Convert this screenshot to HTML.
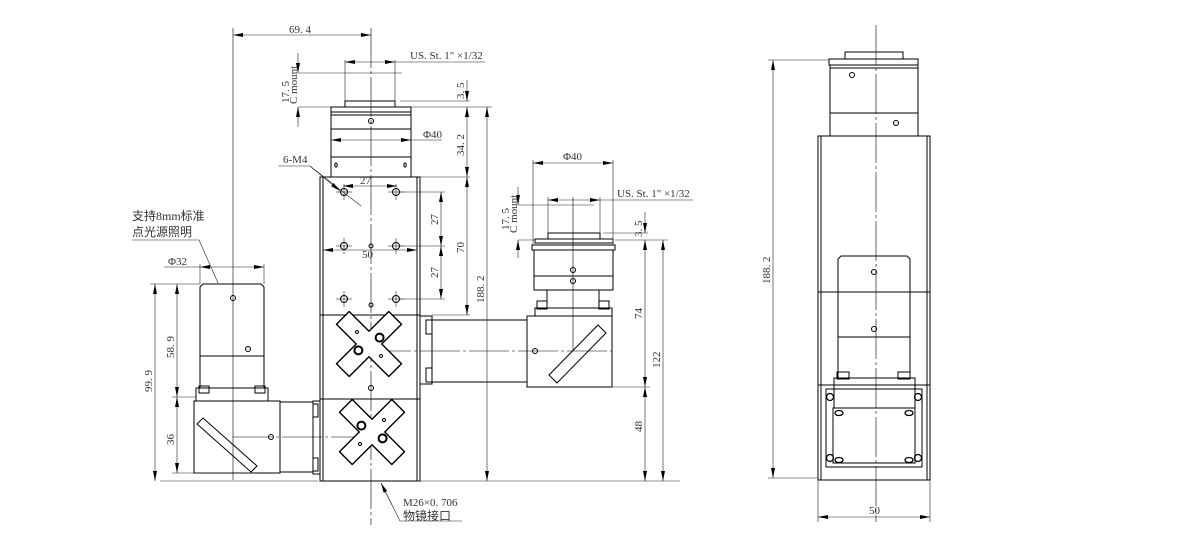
<!DOCTYPE html>
<html><head><meta charset="utf-8"><style>
html,body{margin:0;padding:0;background:#fff;width:1200px;height:540px;overflow:hidden}
svg{display:block}
text{font-family:"Liberation Serif","Noto Serif CJK SC",serif;font-size:11px;fill:#333}
.cn{font-family:"Liberation Serif","Noto Sans CJK SC",sans-serif;font-size:12px}
</style></head><body>
<svg width="1200" height="540" viewBox="0 0 1200 540" xmlns="http://www.w3.org/2000/svg">
<defs>
<marker id="a" viewBox="0 0 10 4" refX="10" refY="2" markerWidth="10" markerHeight="4" orient="auto-start-reverse" markerUnits="userSpaceOnUse"><path d="M0,0 L10,2 L0,4z" fill="#000"/></marker>
<g id="cross"><polygon points="-9,-37 9,-37 9,-9 37,-9 37,9 9,9 9,37 -9,37 -9,9 -37,9 -37,-9 -9,-9" fill="#fff" stroke="#000" stroke-width="1.4" stroke-linejoin="round"/></g>
<g id="hx"><circle r="3.5" fill="none" stroke="#000"/><line x1="-8" y1="0" x2="8" y2="0" stroke="#000" stroke-width=".5"/><line x1="0" y1="-8" x2="0" y2="8" stroke="#000" stroke-width=".5"/></g>
</defs>
<g fill="none" stroke="#000" stroke-width="1">
<line x1="371" y1="28" x2="371" y2="525" stroke-width=".6" stroke-dasharray="40,3,3,3"/>
<line x1="233" y1="28" x2="233" y2="480" stroke-width=".6"/>
<line x1="876" y1="25" x2="876" y2="522" stroke-width=".6" stroke-dasharray="40,3,3,3"/>
<line x1="573" y1="197" x2="573" y2="350" stroke-width=".6"/>
<line x1="371" y1="351" x2="612" y2="351" stroke-width=".6" stroke-dasharray="40,3,3,3"/>
<line x1="233" y1="437" x2="371" y2="437" stroke-width=".6" stroke-dasharray="40,3,3,3"/>

<rect x="345" y="101" width="50" height="6"/>
<rect x="331" y="107" width="80" height="5"/>
<rect x="331" y="112" width="80" height="65"/>
<line x1="331" y1="115" x2="411" y2="115"/>
<line x1="331" y1="129" x2="411" y2="129"/>
<line x1="331" y1="157" x2="411" y2="157"/>
<circle cx="371" cy="121" r="2.5"/>
<ellipse cx="336" cy="165" rx="1.2" ry="2"/><ellipse cx="405" cy="165" rx="1.2" ry="2"/>

<rect x="320" y="177" width="100" height="304"/>
<line x1="323" y1="177" x2="323" y2="481"/><line x1="417" y1="177" x2="417" y2="481"/>
<line x1="320" y1="315" x2="420" y2="315"/>
<line x1="320" y1="399" x2="420" y2="399"/>
<use href="#hx" x="344" y="192"/><use href="#hx" x="396" y="192"/>
<use href="#hx" x="344" y="246"/><use href="#hx" x="396" y="246"/>
<use href="#hx" x="344" y="299"/><use href="#hx" x="396" y="299"/>
<circle cx="371" cy="246" r="2"/><circle cx="371" cy="305" r="2"/><circle cx="371" cy="388" r="2.5"/>
<g transform="translate(369,344) rotate(-45)"><use href="#cross"/><circle cx="-12" cy="-3" r="4" stroke-width="2"/><circle cx="12" cy="3" r="4" stroke-width="2"/><circle cx="0" cy="-17" r="1.5"/><circle cx="0" cy="17" r="1.5"/></g>
<g transform="translate(372,432) rotate(45)"><use href="#cross"/><circle cx="12" cy="-3" r="4" stroke-width="2"/><circle cx="-12" cy="3" r="4" stroke-width="2"/><circle cx="0" cy="-17" r="1.5"/><circle cx="0" cy="17" r="1.5"/></g>

<rect x="420" y="316" width="12" height="68"/>
<rect x="426" y="320" width="6" height="14"/><rect x="426" y="368" width="6" height="14"/>
<rect x="432" y="320" width="95" height="62"/>
<rect x="527" y="316" width="85" height="71"/>
<circle cx="535" cy="351" r="2.5"/>
<polygon points="549,375 598,325 606,333 557,383"/>
<rect x="548" y="233" width="52" height="6"/>
<rect x="535" y="239" width="78" height="4"/>
<rect x="532" y="245" width="83" height="5"/>
<rect x="534" y="250" width="79" height="40"/>
<line x1="534" y1="276" x2="613" y2="276"/>
<circle cx="573" cy="270" r="2.5"/><circle cx="573" cy="281" r="2.5"/>
<line x1="547" y1="290" x2="547" y2="303"/><line x1="599" y1="290" x2="599" y2="303"/>
<rect x="537" y="301" width="10" height="8"/><rect x="599" y="301" width="10" height="8"/>
<rect x="535" y="308" width="77" height="8"/>

<path d="M200,287 L203,284 L261,284 L264,287 L264,388 L200,388 Z"/>
<line x1="200" y1="356" x2="264" y2="356"/>
<circle cx="233" cy="298" r="2.5"/><circle cx="248" cy="349" r="2.5"/>
<rect x="196" y="388" width="72" height="13"/>
<rect x="199" y="386" width="10" height="7"/><rect x="255" y="386" width="10" height="7"/>
<rect x="194" y="401" width="86" height="72"/>
<circle cx="271" cy="437" r="2.5"/>
<polygon points="197,424 203,418 257,466 251,472"/>
<rect x="280" y="402" width="33" height="70"/>
<rect x="313" y="401" width="7" height="73"/>
<rect x="313" y="404" width="5" height="13"/><rect x="313" y="458" width="5" height="13"/>

<rect x="845" y="52" width="58" height="7"/>
<rect x="829" y="59" width="89" height="6"/>
<rect x="830" y="65" width="88" height="71"/>
<line x1="830" y1="68" x2="918" y2="68"/>
<line x1="830" y1="113" x2="918" y2="113"/>
<circle cx="852" cy="75" r="2.5"/><circle cx="896" cy="123" r="2.5"/>
<rect x="818" y="136" width="112" height="344"/>
<line x1="821" y1="136" x2="821" y2="480"/><line x1="927" y1="136" x2="927" y2="480"/>
<line x1="818" y1="292" x2="930" y2="292"/><line x1="818" y1="385" x2="930" y2="385"/>
<path d="M838,259 L841,256 L907,256 L910,259 L910,378 L838,378 Z"/>
<line x1="838" y1="337" x2="910" y2="337"/>
<circle cx="874" cy="272" r="2.5"/><circle cx="874" cy="329" r="2.5"/>
<rect x="837" y="372" width="12" height="7"/><rect x="898" y="372" width="12" height="7"/>
<rect x="834" y="378" width="81" height="30"/>
<rect x="826" y="389" width="96" height="78"/>
<rect x="833" y="408" width="82" height="55"/>
<g stroke-width="1.3"><circle cx="830" cy="397" r="3.5"/><circle cx="918" cy="397" r="3.5"/><circle cx="830" cy="458" r="3.5"/><circle cx="918" cy="458" r="3.5"/>
<ellipse cx="839" cy="413" rx="4" ry="2.5"/><ellipse cx="909" cy="413" rx="4" ry="2.5"/><ellipse cx="839" cy="460" rx="4" ry="2.5"/><ellipse cx="909" cy="460" rx="4" ry="2.5"/></g>
</g>

<g fill="none" stroke="#222" stroke-width=".6">
<line x1="233" y1="35" x2="371" y2="35" marker-start="url(#a)" marker-end="url(#a)"/>
<line x1="345" y1="62" x2="395" y2="62" marker-start="url(#a)" marker-end="url(#a)"/><line x1="395" y1="62" x2="485" y2="62"/>
<line x1="345" y1="60" x2="345" y2="101"/><line x1="395" y1="60" x2="395" y2="101"/>
<line x1="298" y1="73" x2="402" y2="73"/><line x1="298" y1="107" x2="331" y2="107"/>
<line x1="298" y1="53" x2="298" y2="73" marker-end="url(#a)"/><line x1="298" y1="127" x2="298" y2="107" marker-end="url(#a)"/>
<line x1="400" y1="101" x2="470" y2="101"/><line x1="411" y1="107" x2="492" y2="107"/>
<line x1="467" y1="80" x2="467" y2="101" marker-end="url(#a)"/>
<line x1="467" y1="107" x2="467" y2="177" marker-start="url(#a)" marker-end="url(#a)"/>
<line x1="467" y1="177" x2="467" y2="315" marker-start="url(#a)" marker-end="url(#a)"/>
<line x1="420" y1="177" x2="470" y2="177"/><line x1="432" y1="315" x2="470" y2="315"/>
<line x1="487" y1="107" x2="487" y2="481" marker-start="url(#a)" marker-end="url(#a)"/>
<line x1="331" y1="140" x2="411" y2="140" marker-start="url(#a)" marker-end="url(#a)"/><line x1="411" y1="140" x2="442" y2="140"/>
<line x1="343" y1="186" x2="397" y2="186" marker-start="url(#a)" marker-end="url(#a)"/>
<line x1="323" y1="250" x2="417" y2="250" marker-start="url(#a)" marker-end="url(#a)"/>
<line x1="441" y1="192" x2="441" y2="246" marker-start="url(#a)" marker-end="url(#a)"/>
<line x1="441" y1="246" x2="441" y2="299" marker-start="url(#a)" marker-end="url(#a)"/>
<line x1="400" y1="192" x2="445" y2="192"/><line x1="400" y1="246" x2="445" y2="246"/><line x1="400" y1="299" x2="445" y2="299"/>
<polyline points="278,166 310,166 361,206"/><line x1="310" y1="166" x2="340" y2="191" marker-end="url(#a)"/>
<line x1="420" y1="481" x2="680" y2="481"/><line x1="160" y1="481" x2="318" y2="481"/>
<line x1="533" y1="163" x2="613" y2="163" marker-start="url(#a)" marker-end="url(#a)"/>
<line x1="533" y1="160" x2="533" y2="245"/><line x1="613" y1="160" x2="613" y2="245"/>
<line x1="548" y1="200" x2="600" y2="200" marker-start="url(#a)" marker-end="url(#a)"/><line x1="600" y1="200" x2="693" y2="200"/>
<line x1="548" y1="197" x2="548" y2="233"/><line x1="600" y1="197" x2="600" y2="233"/>
<line x1="518" y1="205" x2="594" y2="205"/><line x1="518" y1="240" x2="535" y2="240"/>
<line x1="518" y1="187" x2="518" y2="205" marker-end="url(#a)"/><line x1="518" y1="258" x2="518" y2="240" marker-end="url(#a)"/>
<line x1="603" y1="233" x2="648" y2="233"/><line x1="615" y1="240" x2="668" y2="240"/>
<line x1="645" y1="212" x2="645" y2="233" marker-end="url(#a)"/>
<line x1="645" y1="240" x2="645" y2="387" marker-start="url(#a)" marker-end="url(#a)"/>
<line x1="645" y1="387" x2="645" y2="481" marker-start="url(#a)" marker-end="url(#a)"/>
<line x1="612" y1="387" x2="650" y2="387"/>
<line x1="663" y1="240" x2="663" y2="481" marker-start="url(#a)" marker-end="url(#a)"/>
<line x1="200" y1="267" x2="264" y2="267" marker-start="url(#a)" marker-end="url(#a)"/><line x1="164" y1="267" x2="200" y2="267"/>
<line x1="200" y1="264" x2="200" y2="284"/><line x1="264" y1="264" x2="264" y2="284"/>
<line x1="150" y1="284" x2="200" y2="284"/><line x1="172" y1="397" x2="196" y2="397"/><line x1="172" y1="473" x2="250" y2="473"/>
<line x1="155" y1="284" x2="155" y2="481" marker-start="url(#a)" marker-end="url(#a)"/>
<line x1="177" y1="284" x2="177" y2="397" marker-start="url(#a)" marker-end="url(#a)"/>
<line x1="177" y1="397" x2="177" y2="473" marker-start="url(#a)" marker-end="url(#a)"/>
<polyline points="132,240 199,240 218,283"/>
<polyline points="462,521 400,521 381,483"/><line x1="392" y1="505" x2="381" y2="483" marker-end="url(#a)"/>
<line x1="773" y1="60" x2="773" y2="478" marker-start="url(#a)" marker-end="url(#a)"/>
<line x1="768" y1="60" x2="829" y2="60"/><line x1="768" y1="478" x2="818" y2="478"/>
<line x1="818" y1="480" x2="818" y2="522"/><line x1="930" y1="480" x2="930" y2="522"/>
<line x1="818" y1="517" x2="930" y2="517" marker-start="url(#a)" marker-end="url(#a)"/>
</g>

<text x="289" y="33">69. 4</text>
<text x="410" y="59" font-size="10">US. St. 1" ×1/32</text>
<text transform="translate(289,103) rotate(-90)">17. 5</text>
<text transform="translate(297,104) rotate(-90)" font-size="9.5">C mount</text>
<text transform="translate(464,99) rotate(-90)">3. 5</text>
<text transform="translate(464,156) rotate(-90)">34. 2</text>
<text transform="translate(464,253) rotate(-90)">70</text>
<text transform="translate(484,303) rotate(-90)">188. 2</text>
<text x="423" y="138">Φ40</text>
<text x="283" y="163">6-M4</text>
<text x="360" y="184">27</text>
<text x="362" y="258">50</text>
<text transform="translate(438,225) rotate(-90)">27</text>
<text transform="translate(438,278) rotate(-90)">27</text>
<text class="cn" x="132" y="220">支持8mm标准</text>
<text class="cn" x="132" y="236">点光源照明</text>
<text x="168" y="265">Φ32</text>
<text transform="translate(152,392) rotate(-90)">99. 9</text>
<text transform="translate(174,358) rotate(-90)">58. 9</text>
<text transform="translate(174,445) rotate(-90)">36</text>
<text x="563" y="160">Φ40</text>
<text x="617" y="197" font-size="10">US. St. 1" ×1/32</text>
<text transform="translate(509,230) rotate(-90)">17. 5</text>
<text transform="translate(517,233) rotate(-90)" font-size="9.5">C mount</text>
<text transform="translate(642,237) rotate(-90)">3. 5</text>
<text transform="translate(642,319) rotate(-90)">74</text>
<text transform="translate(660,368) rotate(-90)">122</text>
<text transform="translate(642,432) rotate(-90)">48</text>
<text x="403" y="506" font-size="12">M26×0. 706</text>
<text class="cn" x="403" y="520">物镜接口</text>
<text transform="translate(770,284) rotate(-90)">188. 2</text>
<text x="869" y="514">50</text>
</svg>
</body></html>
